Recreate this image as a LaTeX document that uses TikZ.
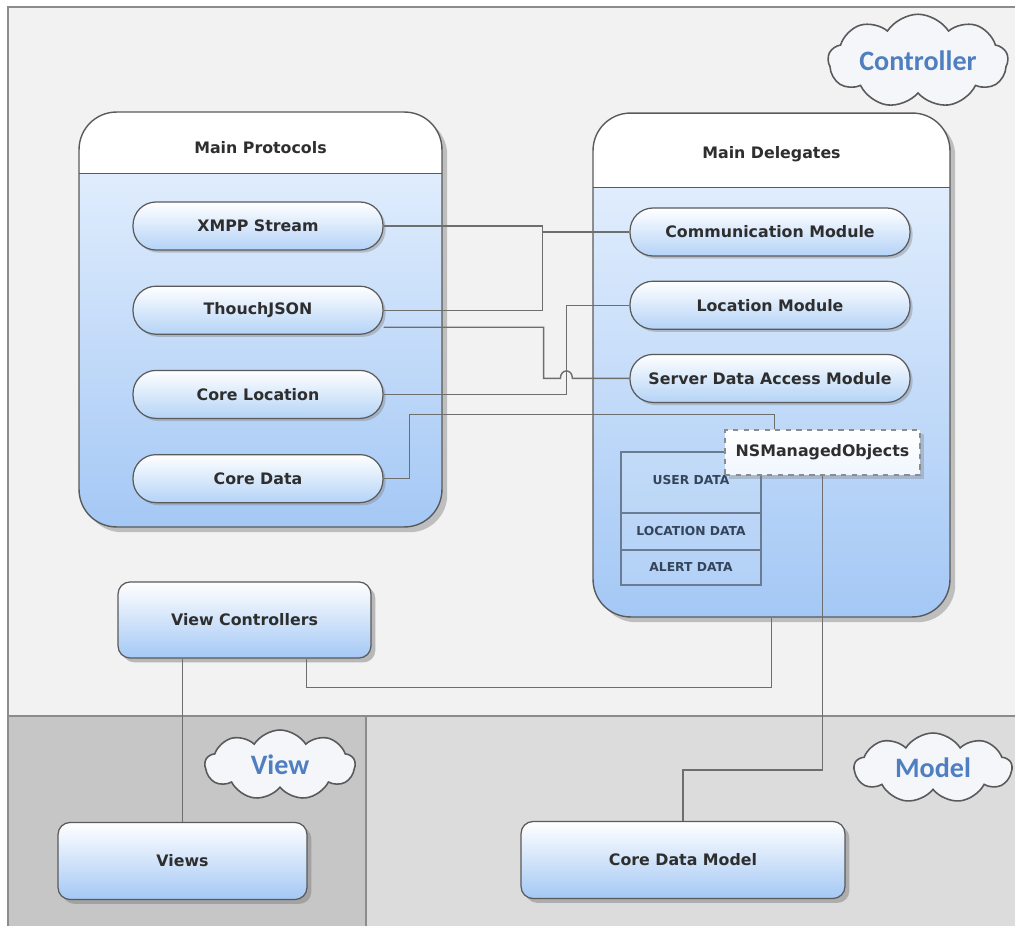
\documentclass[tikz,border=0pt]{standalone}
\usepackage{fontspec}
\setmainfont{DejaVu Sans}
\newfontfamily\cloudfont{Carlito}
\usetikzlibrary{positioning, calc, shapes.symbols, shadows}
\definecolor{ctrlBg}{HTML}{F2F2F2}
\definecolor{viewBg}{HTML}{C6C6C6}
\definecolor{modelBg}{HTML}{DCDCDC}
\definecolor{frameG}{HTML}{8C8C8C}
\definecolor{lineG}{HTML}{6E6E6E}
\definecolor{boxEdge}{HTML}{5A5A5A}
\definecolor{blueTop}{HTML}{EAF3FE}
\definecolor{blueBot}{HTML}{A4C8F5}
\definecolor{pillBot}{HTML}{B4D3F7}
\definecolor{textD}{HTML}{2E2E2E}
\definecolor{tableEdge}{HTML}{6B7B90}
\definecolor{tableTxt}{HTML}{34445A}
\definecolor{cloudTxt}{HTML}{4F7FC0}
\definecolor{cloudFill}{HTML}{F4F6FA}

\begin{document}
\begin{tikzpicture}[
  x=0.02cm, y=-0.02cm,
  bigbox/.style={
    draw=boxEdge, line width=0.8pt, rounded corners=0.75cm,
    top color=blueTop, bottom color=blueBot,
    drop shadow={shadow xshift=3pt, shadow yshift=-3pt, opacity=0.45},
    path picture={
      \fill[white, sharp corners] (path picture bounding box.north west)
        rectangle ([yshift=-#1]path picture bounding box.north east);
      \draw[boxEdge, line width=0.6pt, sharp corners]
        ([yshift=-#1]path picture bounding box.north west)
        -- ([yshift=-#1]path picture bounding box.north east);}
  },
  title/.style={font=\bfseries\fontsize{9}{11}\selectfont, text=textD},
  pill/.style={
    draw=boxEdge, line width=0.7pt, rounded corners=0.46cm,
    top color=white, bottom color=pillBot,
    minimum width=#1, minimum height=0.96cm,
    font=\bfseries\fontsize{9}{11}\selectfont, text=textD,
    drop shadow={shadow xshift=1.5pt, shadow yshift=-1.5pt, opacity=0.4}
  },
  plainbox/.style={
    draw=boxEdge, line width=0.7pt, rounded corners=0.24cm,
    top color=white, bottom color=blueBot,
    minimum width=#1, minimum height=1.54cm,
    font=\bfseries\fontsize{9}{11}\selectfont, text=textD,
    drop shadow={shadow xshift=2.5pt, shadow yshift=-2.5pt, opacity=0.5}
  },
  cell/.style={
    draw=tableEdge, line width=0.7pt, fill=white, fill opacity=0.12,
    text opacity=1, minimum width=2.8cm, minimum height=#1,
    font=\bfseries\fontsize{7}{9}\selectfont, text=tableTxt,
    inner sep=0pt, outer sep=0pt
  },
  nsbox/.style={
    draw=frameG, dashed, line width=0.7pt,
    top color=white, bottom color=blueTop!70!white,
    minimum width=3.9cm, minimum height=0.9cm,
    font=\bfseries\fontsize{9}{11}\selectfont, text=textD,
    drop shadow={shadow xshift=2pt, shadow yshift=-2pt, opacity=0.35}
  },
  layer/.style={
    cloud, cloud puffs=9, cloud puff arc=115, aspect=2.5,
    draw=boxEdge, line width=0.9pt, fill=cloudFill,
    inner sep=0pt, minimum width=#1, minimum height=1.4cm,
    font=\cloudfont\bfseries\fontsize{16}{18}\selectfont, text=cloudTxt
  },
  conn/.style={draw=lineG, line width=0.8pt}
]
\useasboundingbox (0,0) rectangle (1015,926);

%% ═══ AREAS ═══
\fill[ctrlBg] (8,7) rectangle (1015,716);
\fill[viewBg] (8,716) rectangle (366,926);
\fill[modelBg] (366,716) rectangle (1015,926);
\draw[frameG, line width=0.6pt] (1015,7) -- (8,7) -- (8,926);
\draw[frameG, line width=0.6pt] (8,716) -- (1015,716);
\draw[frameG, line width=0.6pt] (366,716) -- (366,926);

\node[layer=3.6cm] (ctrlC) at (918,61) {Controller};
\node[layer=3.0cm] (viewC) at (280,765) {View};
\node[layer=3.15cm] (modelC) at (933,768) {Model};

%% ═══ MAIN PROTOCOLS ═══
\node[bigbox=1.22cm, minimum width=7.26cm, minimum height=8.3cm] (mp) at (260.5,319.5) {};
\node[title] (mpTitle) at ($(mp.north)+(0,36)$) {Main Protocols};

\node[pill=5cm] (xmpp) at (258,226) {XMPP Stream};
\node[pill=5cm, below=0.7cm of xmpp] (json) {ThouchJSON};
\node[pill=5cm, below=0.7cm of json] (cloc) {Core Location};
\node[pill=5cm, below=0.7cm of cloc] (cdata) {Core Data};

%% ═══ MAIN DELEGATES ═══
\node[bigbox=1.48cm, minimum width=7.14cm, minimum height=10.08cm] (md) at (771.5,365) {};
\node[title] (mdTitle) at ($(md.north)+(0,42)$) {Main Delegates};

\node[pill=5.6cm] (comm) at (770,232) {Communication Module};
\node[pill=5.6cm, below=0.48cm of comm] (lmod) {Location Module};
\node[pill=5.6cm, below=0.48cm of lmod] (sdam) {Server Data Access Module};

%% data table + managed objects
\node[cell=1.22cm] (udata) at (691,482.5) {\raisebox{3pt}{USER DATA}};
\node[cell=0.74cm, below=0pt of udata] (ldata) {LOCATION DATA};
\node[cell=0.7cm, below=0pt of ldata] (adata) {ALERT DATA};

\node[nsbox] (nsmo) at (822.5,452.5) {NSManagedObjects};

%% ═══ VIEW CONTROLLERS / VIEWS / MODEL ═══
\node[plainbox=5.06cm, minimum height=1.52cm] (vc) at (244.5,620) {View Controllers};
\node[plainbox=4.98cm] (views) at (182.5,861) {Views};
\node[plainbox=6.48cm] (cdm) at (683,860) {Core Data Model};

%% ═══ CONNECTORS ═══
\coordinate (jComm) at ($(xmpp.east)+(159,0)$);
\draw[conn] (xmpp.east) -- (jComm) |- (comm.west);
\draw[conn] (json.east) -| (jComm);

\coordinate (hopA) at ($(sdam.west)+(-69,0)$);
\coordinate (hopB) at ($(sdam.west)+(-57,0)$);
\draw[conn] ($(json.east)+(0,17)$) -- ++(160,0) |- (hopA)
  .. controls ($(hopA)+(0,-10)$) and ($(hopB)+(0,-10)$) .. (hopB) -- (sdam.west);

\draw[conn] (cloc.east) -| ($(lmod.west)+(-63,0)$) -- (lmod.west);

\draw[conn] (cdata.east) -- ++(26,0) |- ($(nsmo.north west)+(50,-15)$)
  -- ($(nsmo.north west)+(50,0)$);

\draw[conn] (nsmo.south) |- ($(cdm.north)+(0,-51)$) -- (cdm.north);

\draw[conn] (views.north) -- (views.north |- vc.south);
\draw[conn] ($(vc.south west)+(189,0)$) -- ++(0,29) -| (md.south);

\end{tikzpicture}
\end{document}
